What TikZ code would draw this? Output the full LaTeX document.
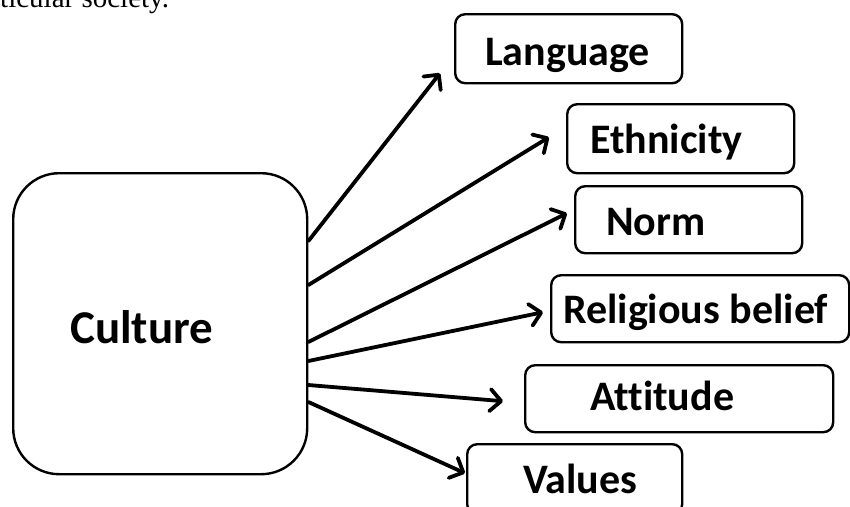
\documentclass[tikz,border=0pt]{standalone}
\usepackage{fontspec}
\setmainfont{Carlito}[Ligatures=CommonOff]
\newfontfamily\timesfont{Liberation Serif}
\usetikzlibrary{arrows.meta}
\begin{document}
\begin{tikzpicture}[x=1pt,y=-1pt]
\tikzset{
  box/.style={draw, line width=2.4pt, rounded corners=10pt, inner sep=0pt, anchor=north west},
  lbl/.style={font=\bfseries\fontsize{42}{50}\selectfont, inner sep=0pt, anchor=base west},
  arr/.style={line width=3.8pt, line cap=round, -{Straight Barb[length=11pt,width=22pt,round]}},
}
\useasboundingbox (0,0) rectangle (850,506);
\clip (0,0) rectangle (850,506);

% running text cut at top
\node[font=\timesfont\fontsize{29}{34}\selectfont, inner sep=0pt, anchor=base west] (txt) at (0,8) {ticular society.};

% central box
\node[box, rounded corners=46pt, minimum width=294pt, minimum height=301pt] (culture) at (12,172) {};
\node[lbl, font=\bfseries\fontsize{47}{56}\selectfont] (culturet) at (70,343) {Culture};

% target boxes
\node[box, minimum width=227pt, minimum height=69pt] (lang) at (454,13) {};
\node[lbl] (langt) at (485,65) {Language};

\node[box, minimum width=227pt, minimum height=69pt] (eth) at (566,103) {};
\node[lbl] (etht) at (590,153) {Ethnicity};

\node[box, minimum width=227pt, minimum height=67pt] (norm) at (574,185) {};
\node[lbl] (normt) at (606,235) {Norm};

\node[box, minimum width=298pt, minimum height=67pt] (rel) at (550,274) {};
\node[lbl] (relt) at (563,323) {Religious belief};

\node[box, minimum width=308pt, minimum height=67pt] (att) at (524,364) {};
\node[lbl] (attt) at (590,410) {Attitude};

\node[box, minimum width=215pt, minimum height=70pt] (val) at (466,443) {};
\node[lbl] (valt) at (523,493) {Values};

% connectors
\draw[arr] (culture.east |- 0,241) -- ([shift={(-14,24.5)}]lang.west);
\draw[arr] (culture.east |- 0,285) -- ([shift={(-17,-1.5)}]eth.west);
\draw[arr] (culture.east |- 0,342) -- ([shift={(-7,-6.5)}]norm.west);
\draw[arr] (culture.east |- 0,361) -- ([shift={(-7,3.5)}]rel.west);
\draw[arr] (culture.east |- 0,385) -- ([shift={(-21,2.5)}]att.west);
\draw[arr] (culture.east |- 0,402) -- ([shift={(-1,-6)}]val.west);
\end{tikzpicture}
\end{document}
